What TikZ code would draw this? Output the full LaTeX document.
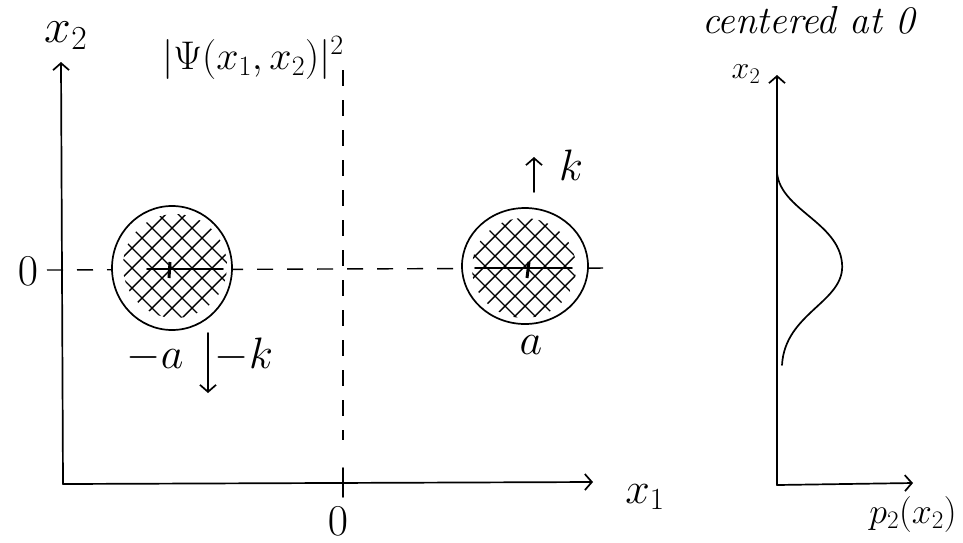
\RequirePackage{fix-cm}
\documentclass[tikz,border=0pt]{standalone}
\usetikzlibrary{arrows.meta,calc}
\begin{document}
\begin{tikzpicture}[x=1pt,y=-1pt,
  ink/.style={line width=1.7pt, line cap=round, line join=round},
  axis/.style={ink, -{Straight Barb[length=7pt,width=16pt,line width=1.7pt]}},
  dashline/.style={line width=1.4pt, dash pattern=on 16pt off 14pt},
  hatch/.style={line width=1.4pt},
  lbl/.style={inner sep=0pt},
  big/.style={lbl, font=\fontsize{44}{46}\selectfont},
]
\useasboundingbox (0,0) rectangle (963,542);

% ---- left plot axes
\coordinate (O1) at (63,484);
\coordinate (v1) at (61,62);
\coordinate (h1) at (593,482);
\draw[axis] (O1) -- (v1);
\draw[axis] (O1) -- (h1);

% dashed lines
\coordinate (dl) at (47,270);
\coordinate (dr) at (612,268);
\draw[dashline] (dl) -- (dr);
\coordinate (vt) at (343,70);
\coordinate (vb) at (343,440);
\draw[dashline] (vt) -- (vb);
\coordinate (tA) at (343,468);
\coordinate (tB) at (343,497);
\draw[ink] (tA) -- (tB);

% ---- left blob
\coordinate (c1) at (172,268);
\fill[white] (c1) ellipse [x radius=60, y radius=62];
\begin{scope}
  \clip (175,266) circle (52);
  \foreach \i in {-160,-140,...,160} {
    \draw[hatch] ($(c1)+(\i,0)+(-70,-70)$) -- ($(c1)+(\i,0)+(70,70)$);
    \draw[hatch] ($(c1)+(\i,0)+(-70,70)$) -- ($(c1)+(\i,0)+(70,-70)$);
  }
\end{scope}
\draw[ink] (c1) ellipse [x radius=60, y radius=62];
\coordinate (l1a) at (147,269);
\coordinate (l1b) at (223,269);
\draw[ink] (l1a) -- (l1b);
\coordinate (m1a) at (170,262);
\coordinate (m1b) at (169,278);
\draw[line width=3pt] (m1a) -- (m1b);

% ---- right blob
\coordinate (c2) at (525,266);
\fill[white] (c2) ellipse [x radius=63, y radius=58];
\begin{scope}
  \clip (524,268) ellipse [x radius=52, y radius=50];
  \foreach \i in {-160,-140,...,160} {
    \draw[hatch] ($(c2)+(\i,0)+(-70,-70)$) -- ($(c2)+(\i,0)+(70,70)$);
    \draw[hatch] ($(c2)+(\i,0)+(-70,70)$) -- ($(c2)+(\i,0)+(70,-70)$);
  }
\end{scope}
\draw[ink] (c2) ellipse [x radius=63, y radius=58];
\coordinate (l2a) at (475,268);
\coordinate (l2b) at (572,268);
\draw[ink] (l2a) -- (l2b);
\coordinate (m2a) at (529,262);
\coordinate (m2b) at (527,278);
\draw[line width=3pt] (m2a) -- (m2b);

% momentum arrows
\coordinate (ku0) at (534,192);
\coordinate (ku1) at (534,157);
\draw[axis] (ku0) -- (ku1);
\coordinate (kd0) at (208,333);
\coordinate (kd1) at (208,393);
\draw[axis] (kd0) -- (kd1);

% labels left plot
\node[lbl, font=\fontsize{48}{50}\selectfont] (x2l) at (66,36) {$x_2$};
\node[lbl, font=\fontsize{40}{42}\selectfont] (psi) at (253,58) {$|\Psi(x_1,x_2)|^2$};
\node[big] (zl) at (28,271) {$0$};
\node[big] (zb) at (338,521) {$0$};
\node[big] (x1l) at (645,497) {$x_1$};
\node[big] (ma) at (155,357) {$-a$};
\node[big] (mk) at (244,355) {$-k$};
\node[big] (kk) at (571,165) {$k$};
\node[big] (aa) at (531,345) {$a$};

% ---- right plot
\node[lbl, anchor=base west, font=\fontsize{39}{41}\selectfont\itshape] (cen) at (702,33) {centered at 0};
\coordinate (O2) at (777,485);
\coordinate (v2) at (777,75);
\coordinate (h2) at (913,483);
\draw[axis] (O2) -- (v2);
\draw[axis] (O2) -- (h2);
\coordinate (g0) at (777,173);
\coordinate (gp) at (842,263);
\coordinate (g1) at (782,365);
\draw[ink] (g0) .. controls (781,210) and (838,222) .. (gp)
                .. controls (846,302) and (785,312) .. (g1);
\node[lbl, font=\fontsize{32}{34}\selectfont] (x2r) at (746,74) {$x_2$};
\node[lbl, font=\fontsize{36}{38}\selectfont] (p2) at (913,514) {$p_2(x_2)$};
\end{tikzpicture}
\end{document}
